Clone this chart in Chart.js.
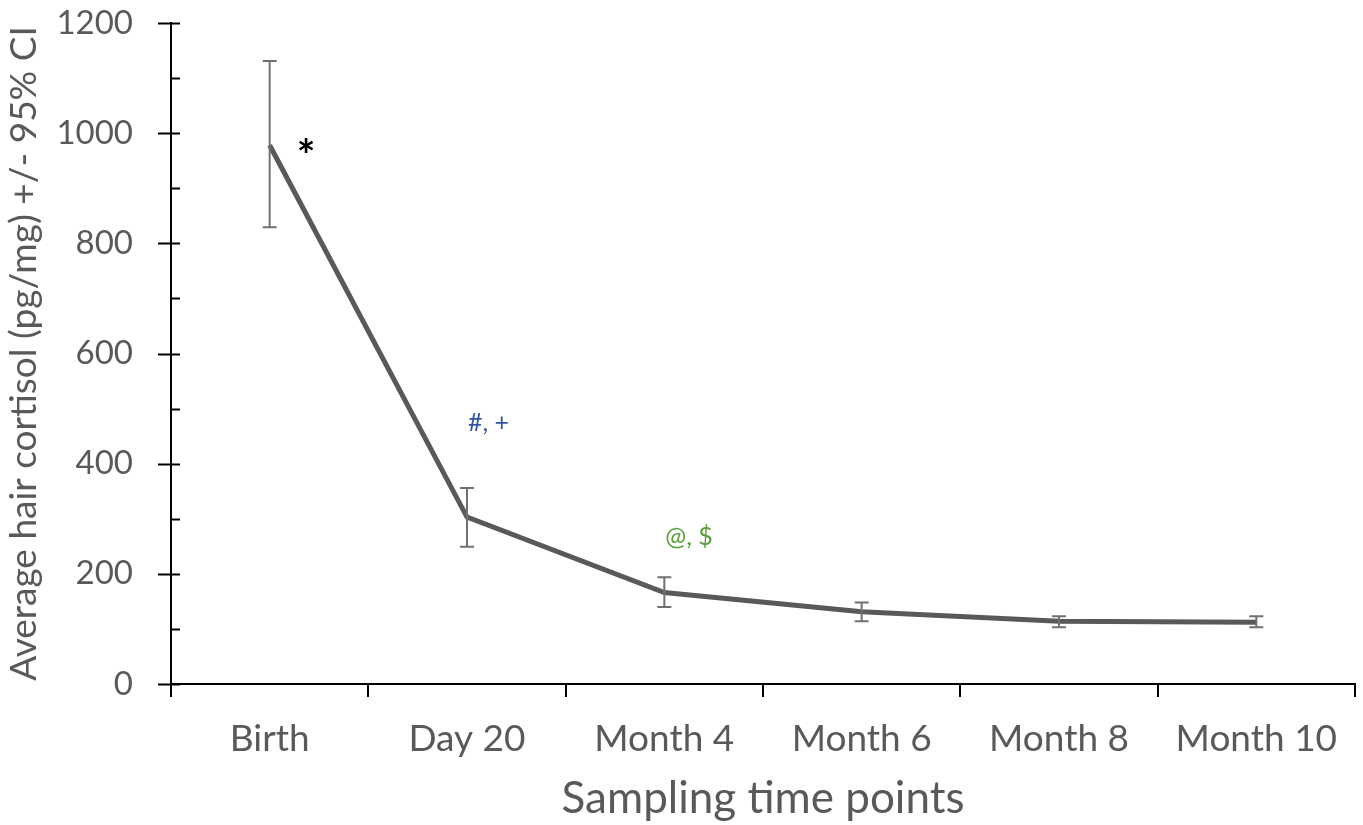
<!DOCTYPE html>
<html>
<head>
<meta charset="utf-8">
<script src="https://cdn.jsdelivr.net/npm/chart.js@4"></script>
<style>
  html, body { margin: 0; padding: 0; background: #fff; }
  #wrap { width: 1363px; height: 825px; }
</style>
</head>
<body>
<div id="wrap"><canvas id="chart" width="1363" height="825"></canvas></div>
<script>
// =====================
// DATA
// =====================
const timePoints = ['Birth', 'Day 20', 'Month 4', 'Month 6', 'Month 8', 'Month 10'];
const meanCortisol = [978, 303, 166, 131, 114, 112];
const ciLow = [829, 249, 140, 114, 103, 103];
const ciHigh = [1131, 356, 194, 148, 123, 123];

// significance marks: text, category index, value level, colour
const markTexts = ['*', '#, +', '@, $'];
const markIndex = [0, 1, 2];
const markLevel = [975, 474, 267];
const markColors = ['#000000', '#2f55a4', '#5a9e3a'];

const yTicksMajor = [0, 200, 400, 600, 800, 1000, 1200];

const GRAY = '#595959';
const FONT = 'Lato, "Open Sans", sans-serif';

// =====================
// PLUGINS
// =====================
const errorBars = {
    id: 'errorBars',
    afterDatasetsDraw(chart) {
        const { ctx, scales: { x, y } } = chart;
        ctx.save();
        ctx.strokeStyle = '#707070';
        ctx.lineWidth = 2;
        timePoints.forEach((_, i) => {
            const px = x.getPixelForValue(i);
            const top = y.getPixelForValue(ciHigh[i]);
            const bot = y.getPixelForValue(ciLow[i]);
            ctx.beginPath();
            ctx.moveTo(px, top); ctx.lineTo(px, bot);
            ctx.moveTo(px - 7, top); ctx.lineTo(px + 7, top);
            ctx.moveTo(px - 7, bot); ctx.lineTo(px + 7, bot);
            ctx.stroke();
        });
        ctx.restore();
    }
};

const yAxisTicks = {
    id: 'yAxisTicks',
    afterDraw(chart) {
        const { ctx, scales: { y }, chartArea } = chart;
        const ax = chartArea.left;
        ctx.save();
        ctx.strokeStyle = '#000';
        ctx.lineWidth = 2;
        y.ticks.forEach(t => {
            const py = Math.round(y.getPixelForValue(t.value)) + 0.5;
            const major = yTicksMajor.includes(t.value);
            ctx.beginPath();
            ctx.moveTo(major ? ax - 13 : ax, py);
            ctx.lineTo(ax + 9, py);
            ctx.stroke();
        });
        ctx.restore();
    }
};

const marks = {
    id: 'marks',
    afterDatasetsDraw(chart) {
        const { ctx, scales: { x, y } } = chart;
        ctx.save();
        ctx.textAlign = 'left';
        ctx.textBaseline = 'middle';
        markTexts.forEach((txt, i) => {
            const px = x.getPixelForValue(markIndex[i]);
            const py = y.getPixelForValue(markLevel[i]);
            ctx.fillStyle = markColors[i];
            if (txt === '*') {
                ctx.font = 'bold 44px ' + FONT;
                ctx.fillText(txt, px + 27, py + 10);
            } else {
                ctx.font = '25px ' + FONT;
                ctx.fillText(txt, px + 1, py);
            }
        });
        ctx.restore();
    }
};

// =====================
// CHART
// =====================
const ctx = document.getElementById('chart').getContext('2d');
new Chart(ctx, {
    type: 'line',
    data: {
        labels: timePoints,
        datasets: [{
            data: meanCortisol,
            borderColor: GRAY,
            borderWidth: 5,
            pointRadius: 0,
            tension: 0,
            fill: false
        }]
    },
    options: {
        responsive: false,
        animation: false,
        layout: { padding: { top: 23, right: 8, left: 0, bottom: 0 } },
        plugins: { legend: { display: false }, tooltip: { enabled: false } },
        scales: {
            x: {
                offset: true,
                grid: {
                    offset: true,
                    drawOnChartArea: false,
                    drawTicks: true,
                    tickLength: 13,
                    color: '#000',
                    lineWidth: 2
                },
                border: { display: true, color: '#000', width: 2 },
                ticks: { color: GRAY, font: { family: FONT, size: 37 }, padding: 20, maxRotation: 0 },
                title: {
                    display: true,
                    text: 'Sampling time points',
                    color: GRAY,
                    font: { family: FONT, size: 44 },
                    padding: { top: 0, bottom: 0 }
                },
                afterFit: s => { s.height = 825 - 684; s.paddingLeft = 0; s.paddingRight = 0; }
            },
            y: {
                min: 0,
                max: 1200,
                grid: { display: false },
                border: { display: true, color: '#000', width: 2 },
                ticks: {
                    stepSize: 100,
                    color: GRAY,
                    font: { family: FONT, size: 33 },
                    padding: 30,
                    callback: v => yTicksMajor.includes(v) ? String(v) : ''
                },
                title: {
                    display: true,
                    text: 'Average hair cortisol (pg/mg) +/- 95% CI',
                    color: GRAY,
                    font: { family: FONT, size: 37 },
                    padding: { top: 2, bottom: 2 }
                },
                afterFit: s => { s.width = 171; s.paddingTop = 0; s.paddingBottom = 0; }
            }
        }
    },
    plugins: [errorBars, yAxisTicks, marks]
});
</script>
</body>
</html>
